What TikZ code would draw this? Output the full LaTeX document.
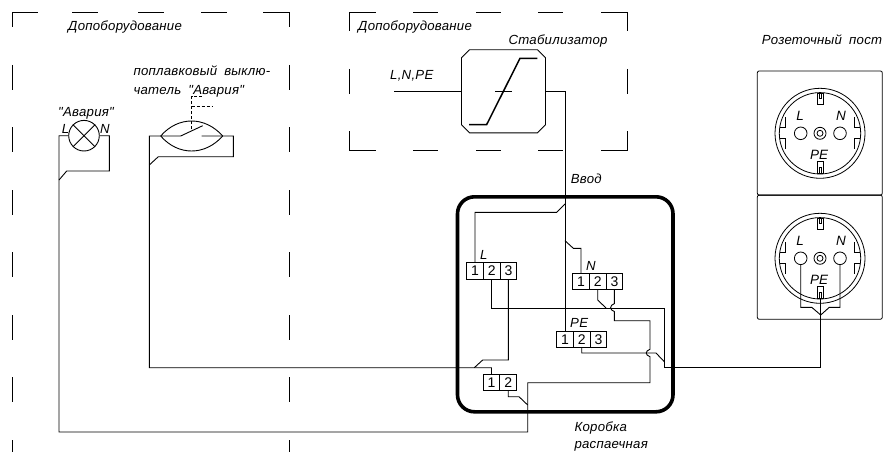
\documentclass[tikz,border=0pt]{standalone}
\usepackage{fontspec}
\setmainfont{Liberation Sans}
\newfontfamily\gostfont{Liberation Sans}[LetterSpace=2,WordSpace=1.8]
\tikzset{
	wire/.style={line width=.9},
	caption/.style={anchor=base west, inner sep=0, font=\gostfont\itshape\fontsize{13.2}{13.2}\selectfont},
	socketmark/.style={anchor=base, inner sep=0, font=\itshape\fontsize{13.5}{13.5}\selectfont},
	cell/.style={draw, line width=.9, minimum width=16.7, minimum height=16.4, inner sep=0, font=\fontsize{14}{14}\selectfont},
	hole/.style={draw, circle, line width=.8, minimum size=12.6, inner sep=0}
}
\begin{document}
\begin{tikzpicture}[x=1pt,y=-1pt]
	\useasboundingbox (0,0) rectangle (883,452);
	% dashed frames
	\draw [wire] (12,27) -- (12,12) -- (38,12);
	\draw [wire] (263,12) -- (289,12) -- (289,27);
	\foreach \x in {72,138,201} {
		\draw [wire] (\x,12) -- (\x+26,12);
	}
	\foreach \x in {12,289} {
		\foreach \y in {65,127,190,252,315,377} {
			\draw [wire] (\x,\y) -- (\x,\y+25);
		}
		\draw [wire] (\x,440) -- (\x,452);
	}
	\draw [wire] (349.5,31) -- (349.5,12) -- (376,12);
	\draw [wire] (601,12) -- (627,12) -- (627,31);
	\draw [wire] (349.5,131) -- (349.5,150) -- (376,150);
	\draw [wire] (601,150) -- (627,150) -- (627,131);
	\foreach \x in {413,476,538} {
		\draw [wire] (\x,12) -- (\x+25,12);
		\draw [wire] (\x,150) -- (\x+25,150);
	}
	\foreach \x in {349.5,627} {
		\draw [wire] (\x,69) -- (\x,94);
	}
	% stabilizer
	\node (stab) [minimum width=84, minimum height=83, inner sep=0] at (503.7,91.5) {};
	\draw [wire] (stab.north west) ++(8,0) -- ++(68,0) -- ++(8,8) -- ++(0,67) -- ++(-8,8) -- ++(-68,0) -- ++(-8,-8) -- ++(0,-67) -- cycle;
	\draw [line width=1.5] (469,124.5) -- (486.7,124.5) -- (520,58.3) -- (537.3,58.3);
	\draw [line width=1.2] (495,91.5) -- (512,91.5);
	\coordinate (input) at (394,91.5);
	\draw [wire] (input) -- (stab.west);
	% junction box
	\draw [line width=3.6, rounded corners=17] (457.5,196.8) rectangle (673,411.8);
	% terminals
	\foreach \i/\x in {1/475,2/491.7,3/508.4} {
		\node (L\i) [cell] at (\x,271) {\i};
	}
	\foreach \i/\x in {1/581,2/597.7,3/614.4} {
		\node (N\i) [cell] at (\x,281.5) {\i};
	}
	\foreach \i/\x in {1/565,2/581.7,3/598.4} {
		\node (PE\i) [cell] at (\x,339.2) {\i};
	}
	\foreach \i/\x in {1/491.5,2/508.2} {
		\node (K\i) [cell] at (\x,382.5) {\i};
	}
	% lamp
	\node (lamp) [draw, circle, line width=.9, minimum size=30.6, inner sep=0] at (84,135.7) {};
	\draw [wire] (lamp.45) -- (lamp.225);
	\draw [wire] (lamp.135) -- (lamp.315);
	% float switch
	\coordinate (lensL) at (160.7,136);
	\coordinate (lensR) at (222.7,136);
	\draw [wire] (lensL) .. controls (178,116) and (205,116) .. (lensR);
	\draw [wire] (lensL) .. controls (178,156) and (205,156) .. (lensR);
	\draw [wire, dash pattern=on 3pt off 2pt] (191.7,129) -- (191.7,96.7) -- (202.7,96.7);
	\draw [wire, dash pattern=on 3pt off 2pt] (191.7,106.7) -- (213,106.7);
	% sockets
	\foreach \tag/\py/\cy in {A/133/133.3,B/257.2/258.3} {
		\node (panel\tag) [draw, line width=.8, rounded corners=2, minimum width=125, minimum height=124.2, inner sep=0] at (819.8,\py) {};
		\draw [line width=.8] (820,\cy) circle (45);
		\draw [line width=.8] (820,\cy) circle (40.7);
		\draw [line width=.8] (820,\cy) circle (6);
		\draw [line width=.8] (820,\cy) circle (3);
		\node (hole\tag L) [hole] at (800.7,\cy) {};
		\node (hole\tag N) [hole] at (840,\cy) {};
		\node (earth\tag) [draw, line width=.8, minimum width=6, minimum height=11.5, inner sep=0] at (820.3,\cy+34) {};
		\draw [line width=.7] (818.9,\cy+34) rectangle (821.7,\cy+39.7);
		\draw [line width=.8] (817.3,\cy-40.3) rectangle (823.3,\cy-29.3);
		\draw [line width=.7] (818.9,\cy-40.3) rectangle (821.7,\cy-34.8);
		\draw [line width=.8] (785.7,\cy-16) -- (785.7,\cy-5.5) -- (780,\cy-5.5);
		\draw [line width=.8] (780,\cy+5.5) -- (785.7,\cy+5.5) -- (785.7,\cy+16);
		\draw [line width=.8] (854.3,\cy-16) -- (854.3,\cy-5.5) -- (860,\cy-5.5);
		\draw [line width=.8] (860,\cy+5.5) -- (854.3,\cy+5.5) -- (854.3,\cy+16);
		\node (markL\tag) [socketmark] at (800,\cy-12.6) {L};
		\node (markN\tag) [socketmark] at (841,\cy-12.6) {N};
		\node (markPE\tag) [socketmark] at (819,\cy+26) {PE};
	}
	% wires
	\coordinate (fork) at (820.7,315);
	\draw [wire] (stab.east) -- (565,91.5) -- (PE1.north);
	\draw [wire] (565,204) -- (556.7,212.3) -- (475,212.3) -- (L1.north);
	\draw [wire] (565,240.7) -- (573.3,248.3) -- (581,248.3) -- (N1.north);
	\draw [wire] (L2.south) -- (491.7,308) -- (664.3,308) -- (664.3,367.7) -- (820.7,367.7) -- (earthB.south -| fork);
	\draw [wire] (N2.south) -- (597.7,300) -- (606,308);
	\draw [wire] (N3.south) -- (614.4,303.6) .. controls +(-5,1.5) and +(-5,-1.5) .. ++(0,8) -- (614.4,320.7) -- (650,320.7) -- (650,349.3) .. controls +(-5,1.5) and +(-5,-1.5) .. ++(0,7.4) -- (650,382.7) -- (527.7,382.7) -- (527.7,432) -- (59,432) -- (59,135.7) -- (lamp.west);
	\draw [wire] (PE2.south) -- (581.7,353) -- (656,353) -- (664.3,361.7);
	\draw [wire] (L3.south) -- (508.4,360) -- (482.7,360) -- (474.3,367.7);
	\draw [wire] (K1.north) -- (491.5,367.7) -- (149.3,367.7) -- (149.3,136) -- (180.7,136) -- (202.7,125.7);
	\draw [wire] (K2.south) -- (508.2,396.7) -- (519,396.7) -- (527.7,405);
	\draw [wire] (lamp.east) -- (109.3,135.7) -- (109.3,171) -- (66.7,171) -- (59,180);
	\draw [wire] (201.7,136) -- (233.3,136) -- (233.3,156.7) -- (158.3,156.7) -- (149.3,165);
	\draw [wire] (holeBL.south) -- (800.7,307.3) -- (811.7,307.3) -- (fork);
	\draw [wire] (holeBN.south) -- (840,307.3) -- (829.3,307.3) -- (fork);
	% labels
	\node (addA) [caption] at (68,30.7) {Допоборудование};
	\node (addB) [caption] at (358,30.7) {Допоборудование};
	\node (stabname) [caption] at (508.3,45) {Стабилизатор};
	\node (feed) [caption] at (390,79.3) {L,N,PE};
	\node (lead) [caption] at (570.7,183.3) {Ввод};
	\node (floatA) [caption] at (133.3,75) {поплавковый выклю-};
	\node (floatB) [caption] at (133.3,94) {чатель "Авария"};
	\node (alarm) [caption] at (58,116.3) {"Авария"};
	\node (lampL) [caption] at (61.7,133.3) {L};
	\node (lampN) [caption] at (100,133.3) {N};
	\node (post) [caption] at (761.7,45) {Розеточный пост};
	\node (termL) [caption] at (480,259) {L};
	\node (termN) [caption] at (586,270) {N};
	\node (termPE) [caption] at (570,327.3) {PE};
	\node (boxA) [caption] at (574.3,431) {Коробка};
	\node (boxB) [caption] at (574.3,448.3) {распаечная};
\end{tikzpicture}
\end{document}
